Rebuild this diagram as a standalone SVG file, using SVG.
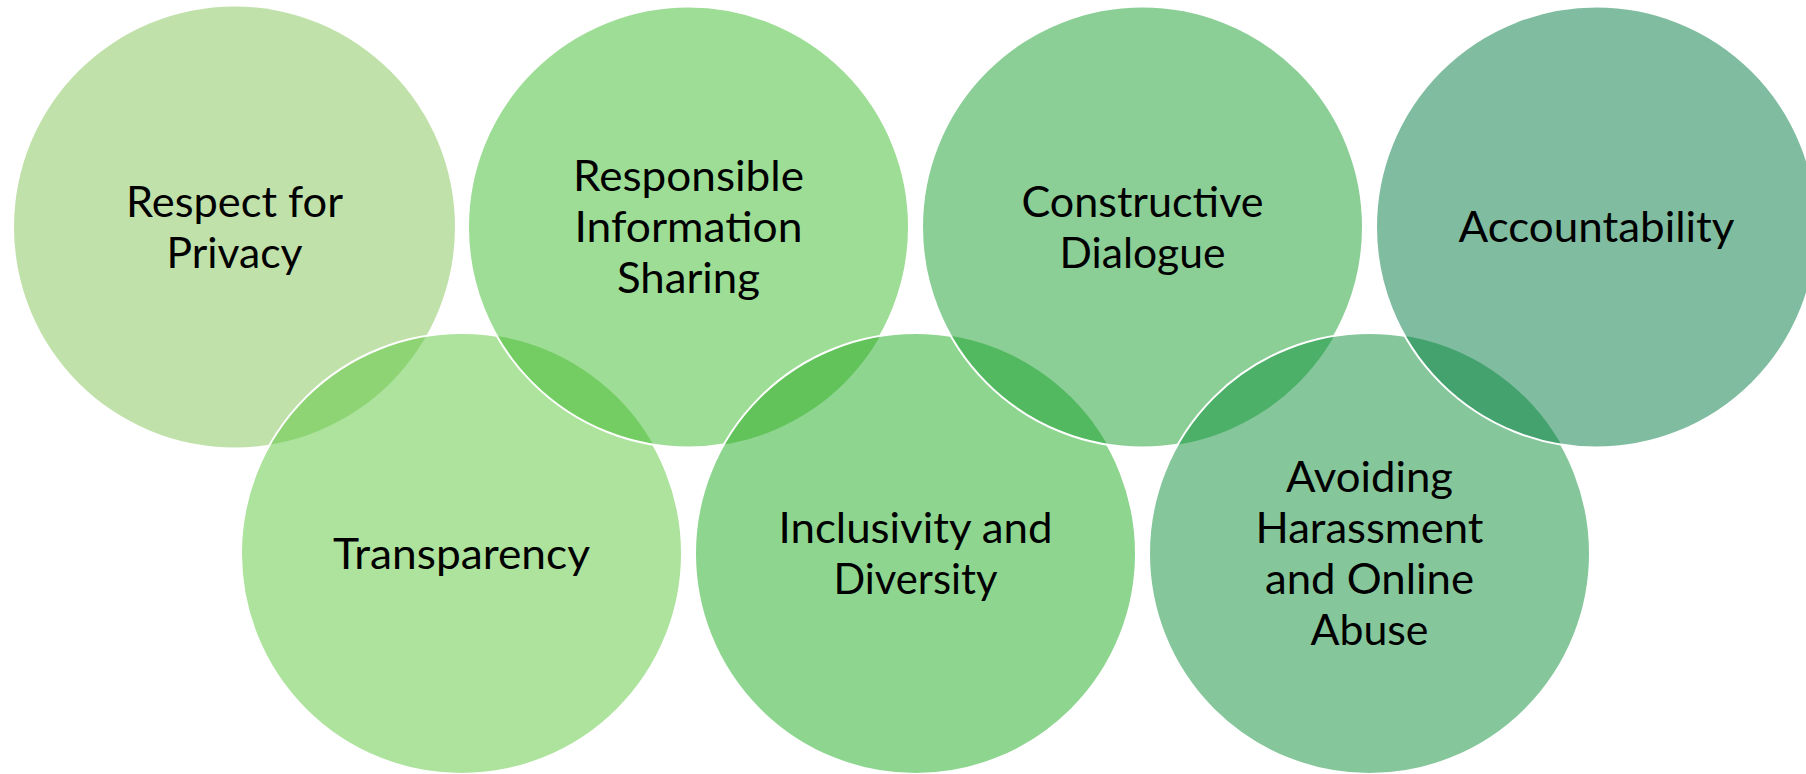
<svg xmlns="http://www.w3.org/2000/svg" width="1806" height="774" viewBox="0 0 1806 774">
  <style>
    .lbl { font-family: Lato, "Open Sans", "Liberation Sans", sans-serif; font-size: 42px; fill: #000; text-anchor: middle; }
    .edge { fill: none; stroke: #ffffff; stroke-width: 2; }
  </style>
  <defs>
    <clipPath id="clipC1"><circle cx="234.5" cy="227" r="220.5"/></clipPath>
    <clipPath id="clipB1"><circle cx="461.5" cy="553.5" r="220.5"/></clipPath>
    <clipPath id="clipC2"><circle cx="688.5" cy="227" r="220.5"/></clipPath>
    <clipPath id="clipB2"><circle cx="915.5" cy="553.5" r="220.5"/></clipPath>
    <clipPath id="clipC3"><circle cx="1142.5" cy="227" r="220.5"/></clipPath>
    <clipPath id="clipB3"><circle cx="1369.5" cy="553.5" r="220.5"/></clipPath>
  </defs>
  <rect x="0" y="0" width="1806" height="774" fill="#ffffff"/>

  <g id="node-respect-for-privacy">
    <circle cx="234.5" cy="227" r="220.5" fill="#c1e1aa"/>
    <text class="lbl"><tspan x="234.5" y="217" textLength="217" lengthAdjust="spacingAndGlyphs">Respect for</tspan><tspan x="234.5" y="268" textLength="136" lengthAdjust="spacingAndGlyphs">Privacy</tspan></text>
  </g>

  <g id="node-transparency">
    <circle cx="461.5" cy="553.5" r="220.5" fill="#ade39d"/>
    <circle cx="461.5" cy="553.5" r="220.5" fill="#8ed475" clip-path="url(#clipC1)"/>
    <circle class="edge" cx="461.5" cy="553.5" r="220.5"/>
    <text class="lbl"><tspan x="461.5" y="568.5" textLength="257" lengthAdjust="spacingAndGlyphs">Transparency</tspan></text>
  </g>

  <g id="node-responsible-information-sharing">
    <circle cx="688.5" cy="227" r="220.5" fill="#9ddd95"/>
    <circle cx="688.5" cy="227" r="220.5" fill="#74cd62" clip-path="url(#clipB1)"/>
    <circle class="edge" cx="688.5" cy="227" r="220.5"/>
    <text class="lbl"><tspan x="688.5" y="191" textLength="231" lengthAdjust="spacingAndGlyphs">Responsible</tspan><tspan x="688.5" y="242" textLength="228" lengthAdjust="spacingAndGlyphs">Information</tspan><tspan x="688.5" y="293" textLength="143" lengthAdjust="spacingAndGlyphs">Sharing</tspan></text>
  </g>

  <g id="node-inclusivity-and-diversity">
    <circle cx="915.5" cy="553.5" r="220.5" fill="#8ed690"/>
    <circle cx="915.5" cy="553.5" r="220.5" fill="#62c35a" clip-path="url(#clipC2)"/>
    <circle class="edge" cx="915.5" cy="553.5" r="220.5"/>
    <text class="lbl"><tspan x="915.5" y="543" textLength="274" lengthAdjust="spacingAndGlyphs">Inclusivity and</tspan><tspan x="915.5" y="594" textLength="164" lengthAdjust="spacingAndGlyphs">Diversity</tspan></text>
  </g>

  <g id="node-constructive-dialogue">
    <circle cx="1142.5" cy="227" r="220.5" fill="#8bcf96"/>
    <circle cx="1142.5" cy="227" r="220.5" fill="#53b960" clip-path="url(#clipB2)"/>
    <circle class="edge" cx="1142.5" cy="227" r="220.5"/>
    <text class="lbl"><tspan x="1142.5" y="217" textLength="242" lengthAdjust="spacingAndGlyphs">Constructive</tspan><tspan x="1142.5" y="268" textLength="166" lengthAdjust="spacingAndGlyphs">Dialogue</tspan></text>
  </g>

  <g id="node-avoiding-harassment">
    <circle cx="1369.5" cy="553.5" r="220.5" fill="#85c79b"/>
    <circle cx="1369.5" cy="553.5" r="220.5" fill="#4cb068" clip-path="url(#clipC3)"/>
    <circle class="edge" cx="1369.5" cy="553.5" r="220.5"/>
    <text class="lbl"><tspan x="1369.5" y="492" textLength="167" lengthAdjust="spacingAndGlyphs">Avoiding</tspan><tspan x="1369.5" y="543" textLength="228" lengthAdjust="spacingAndGlyphs">Harassment</tspan><tspan x="1369.5" y="594" textLength="209" lengthAdjust="spacingAndGlyphs">and Online</tspan><tspan x="1369.5" y="645" textLength="118" lengthAdjust="spacingAndGlyphs">Abuse</tspan></text>
  </g>

  <g id="node-accountability">
    <circle cx="1596.5" cy="227" r="220.5" fill="#80bda0"/>
    <circle cx="1596.5" cy="227" r="220.5" fill="#44a26e" clip-path="url(#clipB3)"/>
    <circle class="edge" cx="1596.5" cy="227" r="220.5"/>
    <text class="lbl"><tspan x="1596.5" y="242" textLength="276" lengthAdjust="spacingAndGlyphs">Accountability</tspan></text>
  </g>
</svg>
